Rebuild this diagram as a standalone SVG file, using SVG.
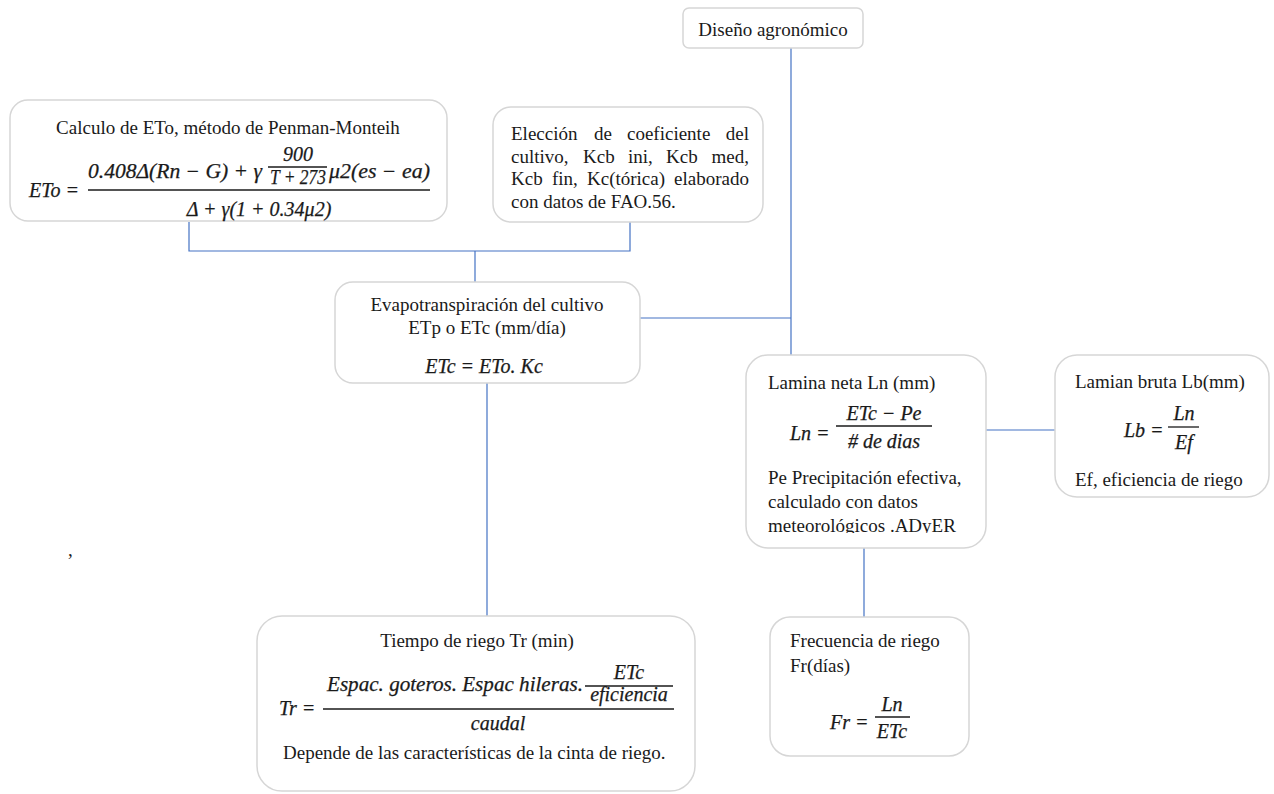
<svg xmlns="http://www.w3.org/2000/svg" width="1274" height="794" viewBox="0 0 1274 794">
<style>
.box{fill:#ffffff;stroke:#d6d6d6;stroke-width:1.5}
.t{font-family:"Liberation Serif","Times New Roman",serif;font-size:19px;fill:#1a1a1a}
.m{font-family:"Liberation Serif","Times New Roman",serif;font-style:italic;font-size:20px;fill:#1a1a1a;stroke:#1a1a1a;stroke-width:0.25}
.c{text-anchor:middle}
.e{text-anchor:end}
.bar{stroke:#1a1a1a;stroke-width:1.3}
.conn{fill:none;stroke:#4472c4;stroke-width:1.2}
</style>
<defs>
<clipPath id="lnclip"><rect x="746" y="355" width="240" height="178"/></clipPath>
</defs>
<rect width="1274" height="794" fill="#ffffff"/>
<g id="connectors">
<path class="conn" d="M189,222 V251 H630 V222"/>
<path class="conn" d="M475,251 V282"/>
<path class="conn" d="M791,48 V355"/>
<path class="conn" d="M640,318 H791"/>
<path class="conn" d="M487,383 V616"/>
<path class="conn" d="M986,430 H1055"/>
<path class="conn" d="M864,548 V617"/>
</g>
<g id="diseno">
<rect class="box" x="683" y="8" width="180" height="40" rx="6"/>
<text class="t c" x="773" y="36">Diseño agronómico</text>
</g>
<g id="eto">
<rect class="box" x="10" y="100" width="437" height="121" rx="18"/>
<text class="t c" x="228" y="134">Calculo de ETo, método de Penman-Monteih</text>
<text class="m" x="29" y="197">ETo =</text>
<line class="bar" x1="88" y1="190" x2="430" y2="190"/>
<text class="m" x="88" y="178" textLength="174" lengthAdjust="spacingAndGlyphs">0.408Δ(Rn − G) + γ</text>
<text class="m c" x="298" y="161">900</text>
<line class="bar" x1="268" y1="167" x2="327" y2="167"/>
<text class="m" x="270" y="184" textLength="56" lengthAdjust="spacingAndGlyphs">T + 273</text>
<text class="m" x="329" y="178" textLength="101" lengthAdjust="spacingAndGlyphs">μ2(es − ea)</text>
<text class="m c" x="259" y="216">Δ + γ(1 + 0.34μ2)</text>
</g>
<g id="kc">
<rect class="box" x="493" y="107" width="270" height="115" rx="18"/>
<text class="t" y="140"><tspan x="511">Elección</tspan><tspan x="594">de</tspan><tspan x="627">coeficiente</tspan><tspan x="749" text-anchor="end">del</tspan></text>
<text class="t" y="162.5"><tspan x="511">cultivo,</tspan><tspan x="583">Kcb</tspan><tspan x="628">ini,</tspan><tspan x="666">Kcb</tspan><tspan x="749" text-anchor="end">med,</tspan></text>
<text class="t" y="185"><tspan x="511">Kcb</tspan><tspan x="552">fin,</tspan><tspan x="587">Kc(tórica)</tspan><tspan x="749" text-anchor="end">elaborado</tspan></text>
<text class="t" x="511" y="207.5">con datos de FAO.56.</text>
</g>
<g id="etc">
<rect class="box" x="335" y="282" width="305" height="101" rx="18"/>
<text class="t c" x="487" y="311">Evapotranspiración del cultivo</text>
<text class="t c" x="487" y="334">ETp o ETc (mm/día)</text>
<text class="m c" x="484" y="373">ETc = ETo. Kc</text>
</g>
<g id="ln">
<rect class="box" x="746" y="355" width="240" height="193" rx="22"/>
<text class="t" x="768" y="389">Lamina neta Ln (mm)</text>
<text class="m" x="790" y="440">Ln =</text>
<text class="m c" x="884" y="420">ETc − Pe</text>
<line class="bar" x1="836" y1="426" x2="932" y2="426"/>
<text class="m c" x="884" y="448">#  de dias</text>
<g clip-path="url(#lnclip)">
<text class="t" x="768" y="484">Pe Precipitación efectiva,</text>
<text class="t" x="768" y="508">calculado con datos</text>
<text class="t" x="768" y="532">meteorológicos .ADyER</text>
</g>
</g>
<g id="lb">
<rect class="box" x="1055" y="355" width="214" height="142" rx="22"/>
<text class="t" x="1075" y="388">Lamian bruta Lb(mm)</text>
<text class="m" x="1124" y="437">Lb =</text>
<text class="m c" x="1184" y="420">Ln</text>
<line class="bar" x1="1168" y1="427" x2="1199" y2="427"/>
<text class="m c" x="1184" y="449">Ef</text>
<text class="t" x="1075" y="486">Ef, eficiencia de riego</text>
</g>
<g id="tr">
<rect class="box" x="257" y="616" width="438" height="175" rx="25"/>
<text class="t c" x="477" y="647">Tiempo de riego Tr (min)</text>
<text class="m" x="279" y="715">Tr =</text>
<line class="bar" x1="323" y1="709" x2="674" y2="709"/>
<text class="m" x="327" y="691" textLength="256" lengthAdjust="spacingAndGlyphs">Espac. goteros. Espac hileras.</text>
<text class="m c" x="629" y="679">ETc</text>
<line class="bar" x1="585" y1="686" x2="673" y2="686"/>
<text class="m c" x="629" y="701">eficiencia</text>
<text class="m c" x="498" y="730">caudal</text>
<text class="t" x="283" y="759">Depende de las características de la cinta de riego.</text>
</g>
<g id="fr">
<rect class="box" x="770" y="617" width="199" height="139" rx="20"/>
<text class="t" x="790" y="647">Frecuencia de riego</text>
<text class="t" x="790" y="672">Fr(días)</text>
<text class="m" x="830" y="729">Fr =</text>
<text class="m c" x="892" y="711">Ln</text>
<line class="bar" x1="875" y1="717" x2="910" y2="717"/>
<text class="m c" x="892" y="738">ETc</text>
</g>
<text class="t" x="68" y="556">,</text>
</svg>
